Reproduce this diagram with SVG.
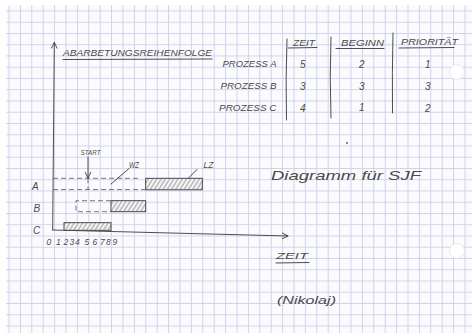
<svg xmlns="http://www.w3.org/2000/svg" width="472" height="336" viewBox="0 0 472 336">
<style>
.ink{fill:#4a4a4a;font-family:"Liberation Sans","DejaVu Sans",sans-serif;font-style:italic}
.ln{stroke:#3a3a3a;stroke-width:0.9;fill:none;stroke-linecap:round}
.dash{stroke:#555;stroke-width:0.8;fill:none;stroke-dasharray:5 3}
.hbar{fill:url(#hatch);stroke:#3a3a3a;stroke-width:0.9}
</style>
<defs>
<pattern id="grid" patternUnits="userSpaceOnUse" x="8.5" y="10.5" width="11.4" height="11.25">
<path d="M0.5 0 V11.25 M0 0.5 H11.4" stroke="#d0d2ee" stroke-width="1" fill="none"/>
</pattern>
<pattern id="hatch" patternUnits="userSpaceOnUse" width="3.6" height="10" patternTransform="rotate(32)">
<rect width="3.6" height="10" fill="#f6f6f8"/>
<path d="M1 0 V10" stroke="#666" stroke-width="0.7"/>
</pattern>
<marker id="arr" markerWidth="8" markerHeight="8" refX="6.5" refY="3.5" orient="auto" markerUnits="userSpaceOnUse">
<path d="M0.5,0.5 L6.5,3.5 L0.5,6.5" fill="none" stroke="#3a3a3a" stroke-width="0.9"/>
</marker>
</defs>
<rect width="472" height="336" fill="#ffffff"/>
<g id="paper">
<path d="M12 5 H472 V333 H10 Q6 333 6 329 V11 Q6 5 12 5 Z" fill="#fbfbfd"/>
<path d="M12 5 H472 V333 H10 Q6 333 6 329 V11 Q6 5 12 5 Z" fill="url(#grid)"/>
<circle cx="457" cy="72" r="7.5" fill="#ffffff" stroke="#e2e2e6" stroke-width="0.8"/>
<circle cx="457" cy="251" r="7.5" fill="#ffffff" stroke="#e2e2e6" stroke-width="0.8"/>
<circle cx="347" cy="143" r="0.9" fill="#555"/>
</g>
<g id="table">
<g id="header">
<text class="ink" x="63" y="55.5" font-size="9.5" textLength="149" lengthAdjust="spacingAndGlyphs">ABARBETUNGSREIHENFOLGE</text>
<path class="ln" d="M63 59.5 L212 59"/>
<text class="ink" x="293" y="45.5" font-size="9.5" textLength="22" lengthAdjust="spacingAndGlyphs">ZEIT</text>
<path class="ln" d="M288 48 L317 47.5"/>
<text class="ink" x="341" y="45.5" font-size="9.5" textLength="43" lengthAdjust="spacingAndGlyphs">BEGINN</text>
<path class="ln" d="M336 48.5 L384 48.5"/>
<text class="ink" x="401" y="44.5" font-size="9.5" textLength="57" lengthAdjust="spacingAndGlyphs">PRIORITÄT</text>
<path class="ln" d="M399 48 L454 47.5"/>
</g>
<g id="dividers">
<path class="ln" d="M287 39 Q285.5 80 286.5 120"/>
<path class="ln" d="M331 37 Q329.5 78 331 118"/>
<path class="ln" d="M393 33 Q392 72 392.5 113"/>
</g>
<g id="row-a">
<text class="ink" x="222.5" y="67" font-size="9" textLength="54" lengthAdjust="spacingAndGlyphs">PROZESS A</text>
<text class="ink" x="300" y="67.5" font-size="10">5</text>
<text class="ink" x="359" y="67.5" font-size="10">2</text>
<text class="ink" x="425" y="67.5" font-size="10">1</text>
</g>
<g id="row-b">
<text class="ink" x="220.5" y="89" font-size="9" textLength="56" lengthAdjust="spacingAndGlyphs">PROZESS B</text>
<text class="ink" x="300" y="89.5" font-size="10">3</text>
<text class="ink" x="359" y="89.5" font-size="10">3</text>
<text class="ink" x="425" y="90" font-size="10">3</text>
</g>
<g id="row-c">
<text class="ink" x="219" y="111" font-size="9" textLength="57.5" lengthAdjust="spacingAndGlyphs">PROZESS C</text>
<text class="ink" x="300" y="111.5" font-size="10">4</text>
<text class="ink" x="359" y="111" font-size="10">1</text>
<text class="ink" x="425" y="112" font-size="10">2</text>
</g>
</g>
<g id="connectors">
<path class="ln" d="M52.7 230 L54.3 42.5" marker-end="url(#arr)"/>
<path class="ln" d="M52.7 230 L288 236" marker-end="url(#arr)"/>
<path class="ln" d="M88 157 L88 178" marker-end="url(#arr)"/>
<path class="ln" d="M129 168.5 L111 184"/>
<path class="ln" d="M197 169.5 L184 182.5"/>
</g>
<g id="chart">
<g id="bar-a">
<path class="dash" d="M53 178.3 H140"/>
<path class="dash" d="M53 189.6 H145.5"/>
<path class="dash" d="M88 178.3 V189.6" stroke-dasharray="3 2"/>
<rect class="hbar" x="145.7" y="178.3" width="56.6" height="11.5"/>
</g>
<g id="bar-b">
<path class="dash" d="M111 200.7 H76 V211.7 H111"/>
<rect class="hbar" x="111" y="200.7" width="34.7" height="11"/>
</g>
<g id="bar-c">
<rect class="hbar" x="64" y="222.7" width="47" height="7.6"/>
</g>
<g id="row-labels">
<text class="ink" x="32" y="189.5" font-size="10">A</text>
<text class="ink" x="33.5" y="211.5" font-size="10">B</text>
<text class="ink" x="33" y="233.5" font-size="10">C</text>
</g>
<g id="ticks" font-size="8.5">
<text class="ink" x="46.5" y="244.5">0</text>
<text class="ink" x="56" y="244.5">1</text>
<text class="ink" x="63.5" y="244.5">2</text>
<text class="ink" x="69.5" y="244.5">3</text>
<text class="ink" x="75" y="244.5">4</text>
<text class="ink" x="84.5" y="244.5">5</text>
<text class="ink" x="92.5" y="244.5">6</text>
<text class="ink" x="100" y="244.5">7</text>
<text class="ink" x="106" y="244.5">8</text>
<text class="ink" x="112.5" y="244.5">9</text>
</g>
<g id="annotations">
<text class="ink" x="80.5" y="155" font-size="8" textLength="20" lengthAdjust="spacingAndGlyphs">START</text>
<text class="ink" x="129" y="168" font-size="8.5" textLength="10" lengthAdjust="spacingAndGlyphs">WZ</text>
<text class="ink" x="203.5" y="167.5" font-size="8.5" textLength="10" lengthAdjust="spacingAndGlyphs">LZ</text>
</g>
</g>
<g id="notes">
<text class="ink" x="271" y="180" font-size="13" textLength="150" lengthAdjust="spacingAndGlyphs">Diagramm für SJF</text>
<text class="ink" x="276" y="259" font-size="9" textLength="32" lengthAdjust="spacingAndGlyphs">ZEIT</text>
<path class="ln" d="M276 263 L309 262.5"/>
<text class="ink" x="277" y="304" font-size="11" textLength="59" lengthAdjust="spacingAndGlyphs">(Nikolaj)</text>
</g>
</svg>
